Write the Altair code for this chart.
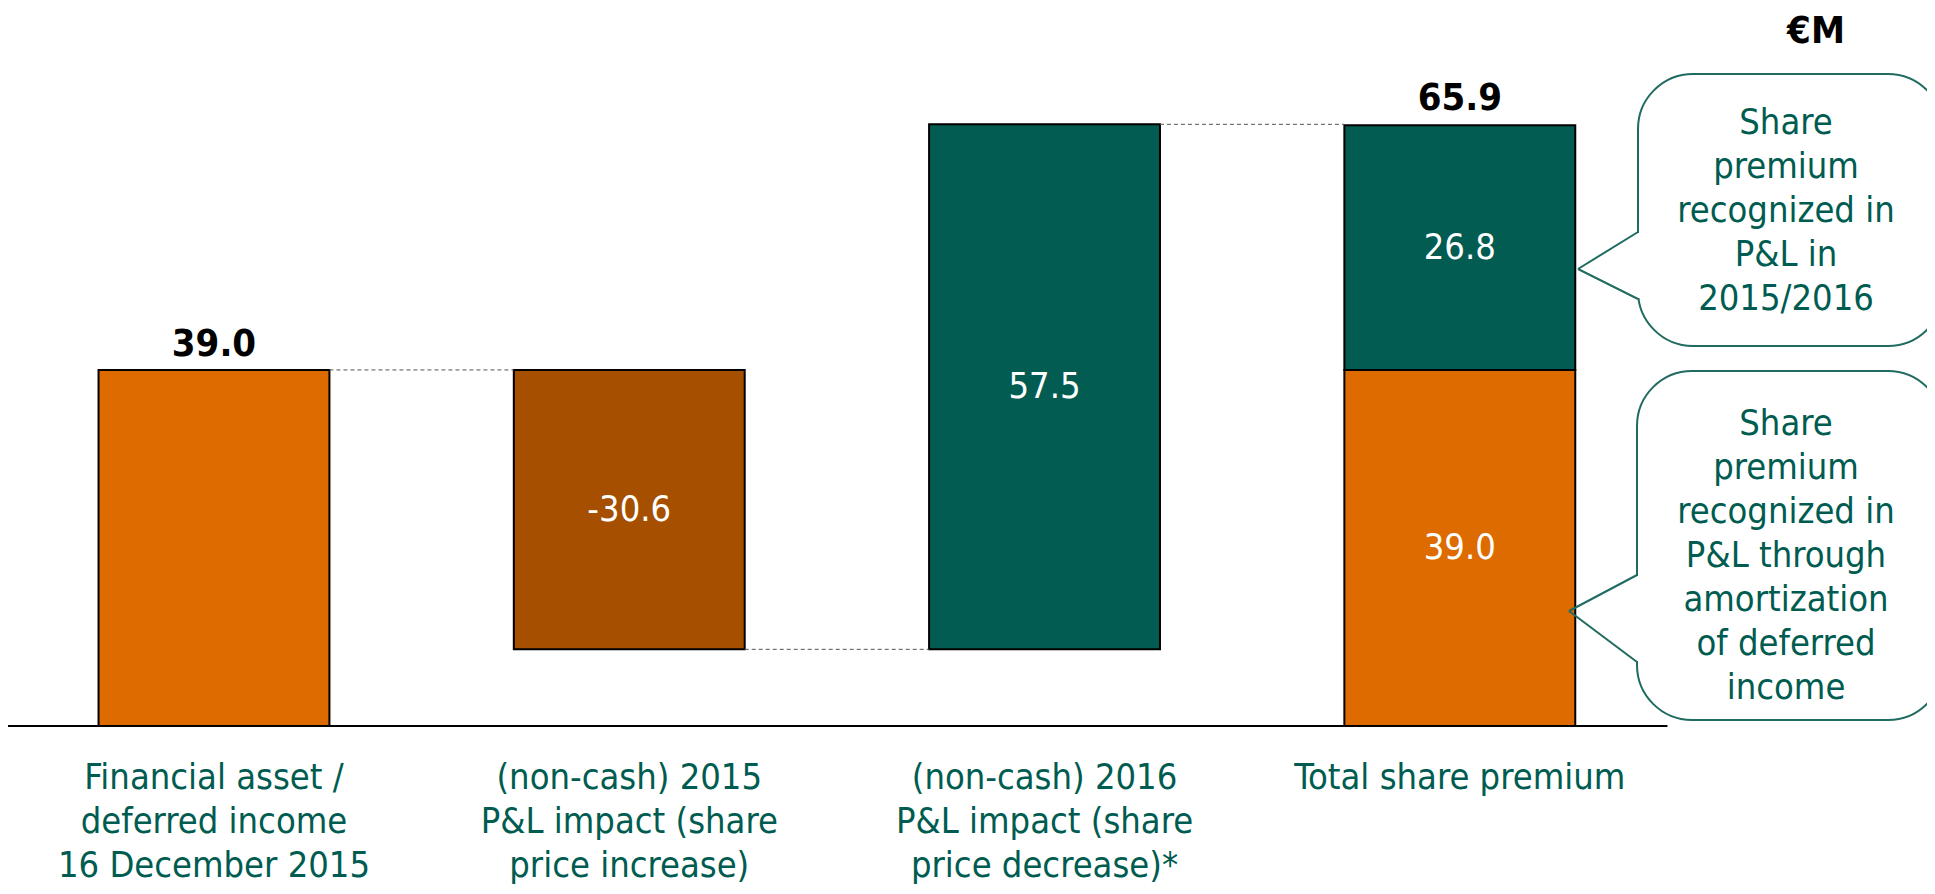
import altair as alt
import pandas as pd

# ---------------- data ----------------
categories = [
    "Financial asset /\ndeferred income\n16 December 2015",
    "(non-cash) 2015\nP&L impact (share\nprice increase)",
    "(non-cash) 2016\nP&L impact (share\nprice decrease)*",
    "Total share premium",
]
opening = 39.0
changes = [-30.6, 57.5]
total_parts = [39.0, 26.8]
total_value = 65.9
unit_label = "€M"
callout_texts = [
    "Share\npremium\nrecognized in\nP&L in\n2015/2016",
    "Share\npremium\nrecognized in\nP&L through\namortization\nof deferred\nincome",
]

# ---------------- styles ----------------
ORANGE = "#DD6B00"
BROWN = "#A64F00"
TEAL = "#035C52"
TEXT_TEAL = "#005C50"
LINE_TEAL = "#1F6B60"
FONT = "DejaVu Sans Condensed, DejaVu Sans"
HW = 0.278  # half bar width in slot units

# ---------------- build tables ----------------
seg = [dict(slot=0, y0=0.0, y1=opening, color=ORANGE, label="")]
levels = [opening]
level = opening
for i, c in enumerate(changes):
    new = round(level + c, 1)
    seg.append(dict(slot=i + 1, y0=level, y1=new, color=BROWN if c < 0 else TEAL, label=f"{c:.1f}"))
    level = new
    levels.append(level)
base = 0.0
for part, col in zip(total_parts, [ORANGE, TEAL]):
    seg.append(dict(slot=3, y0=base, y1=round(base + part, 1), color=col, label=f"{part:.1f}"))
    base = round(base + part, 1)
levels.append(total_value)
bars = pd.DataFrame(seg)
bars["mid"] = (bars.y0 + bars.y1) / 2

conn = pd.DataFrame([dict(a=i, b=i + 1, lvl=levels[i]) for i in range(3)])
tops = pd.DataFrame([dict(slot=0, v=opening, t=f"{opening:.1f}"),
                     dict(slot=3, v=total_value, t=f"{total_value:.1f}")])
cats = pd.DataFrame(dict(slot=list(range(len(categories))), name=categories))

xs = alt.Scale(domain=[-0.496, 4.125], nice=False, zero=False)
ys = alt.Scale(domain=[-17.52, 78.64], nice=False, zero=False)

X = lambda f: alt.X(f, type="quantitative", scale=xs, axis=None)
Y = lambda f: alt.Y(f, type="quantitative", scale=ys, axis=None)

bar_layer = alt.Chart(bars).transform_calculate(
    xa=f"datum.slot - {HW}", xb=f"datum.slot + {HW}"
).mark_rect(stroke="black", strokeWidth=2).encode(
    x=X("xa:Q"), x2="xb:Q", y=Y("y0:Q"), y2="y1:Q",
    fill=alt.Fill("color:N", scale=None),
)

inside = alt.Chart(bars).mark_text(
    font=FONT, fontSize=36, color="white", baseline="middle", align="center"
).encode(x=X("slot:Q"), y=Y("mid:Q"), text="label:N")

top_lbl = alt.Chart(tops).mark_text(
    font=FONT, fontSize=38, fontWeight="bold", color="black", baseline="alphabetic", dy=-14
).encode(x=X("slot:Q"), y=Y("v:Q"), text="t:N")

conn_layer = alt.Chart(conn).transform_calculate(
    xa=f"datum.a + {HW}", xb=f"datum.b - {HW}"
).mark_rule(color="#555555", strokeWidth=1, strokeDash=[4, 3]).encode(
    x=X("xa:Q"), x2="xb:Q", y=Y("lvl:Q")
)

axis_line = alt.Chart(pd.DataFrame(dict(a=[-0.5], b=[3.5], z=[0.0]))).mark_rule(
    color="black", strokeWidth=2
).encode(x=X("a:Q"), x2="b:Q", y=Y("z:Q"))

cat_lbl = alt.Chart(cats).mark_text(
    font=FONT, fontSize=36, color=TEXT_TEAL, baseline="alphabetic", align="center",
    lineBreak="\n", lineHeight=44
).encode(x=X("slot:Q"), y=alt.value(781), text="name:N")

one = pd.DataFrame(dict(k=[0]))
unit = alt.Chart(one).mark_text(
    font=FONT, fontSize=38, fontWeight="bold", color="black", baseline="alphabetic", align="center"
).encode(x=alt.value(1808), y=alt.value(35), text=alt.value(unit_label))

# callouts: box (left, top, bottom), pointer (base y's, tip x, tip y), first text baseline
callout_geo = [
    dict(l=1630, t=66, b=338, b1=224, b2=291, tx=1570, ty=261, ty0=126),
    dict(l=1629, t=363, b=712, b1=567, b2=654, tx=1561, ty=603, ty0=427),
]
callouts = []
for g, txt in zip(callout_geo, callout_texts):
    box = alt.Chart(one).mark_rect(
        fill="white", stroke=LINE_TEAL, strokeWidth=2, cornerRadius=55
    ).encode(x=alt.value(g["l"]), x2=alt.value(1935), y=alt.value(g["t"]), y2=alt.value(g["b"]))
    gap = alt.Chart(one).mark_rule(color="white", strokeWidth=5).encode(
        x=alt.value(g["l"]), x2=alt.value(g["l"]), y=alt.value(g["b1"] + 1), y2=alt.value(g["b2"] - 1)
    )
    p1 = alt.Chart(one).mark_rule(color=LINE_TEAL, strokeWidth=2).encode(
        x=alt.value(g["l"]), y=alt.value(g["b1"]), x2=alt.value(g["tx"]), y2=alt.value(g["ty"])
    )
    p2 = alt.Chart(one).mark_rule(color=LINE_TEAL, strokeWidth=2).encode(
        x=alt.value(g["l"]), y=alt.value(g["b2"]), x2=alt.value(g["tx"]), y2=alt.value(g["ty"])
    )
    t = alt.Chart(one).mark_text(
        font=FONT, fontSize=36, color=TEXT_TEAL, baseline="alphabetic", align="center",
        lineBreak="\n", lineHeight=44
    ).encode(x=alt.value(1778), y=alt.value(g["ty0"]), text=alt.value(txt))
    callouts += [box, gap, p1, p2, t]

chart = alt.layer(
    bar_layer, conn_layer, axis_line, inside, top_lbl, cat_lbl, unit, *callouts
).properties(
    width=1919, height=878, autosize=alt.AutoSizeParams(type="none"), padding=0,
    background="white",
).configure_view(stroke=None)

chart.save("out.html", embed_options={"renderer": "svg", "actions": False})
